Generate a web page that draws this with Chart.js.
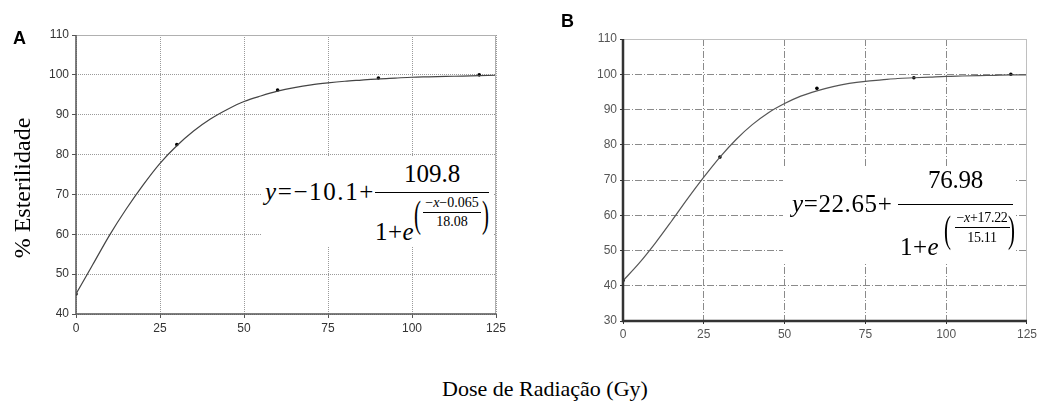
<!DOCTYPE html>
<html>
<head>
<meta charset="utf-8">
<script src="https://cdn.jsdelivr.net/npm/chart.js@4/dist/chart.umd.min.js"></script>
<style>
  html,body{margin:0;padding:0;background:#fff;}
  body{width:1040px;height:403px;position:relative;overflow:hidden;font-family:"Liberation Serif","Times New Roman",serif;}
  .wrap{position:absolute;top:0;}
  .t{position:absolute;white-space:nowrap;line-height:1;color:#000;}
  .box{position:absolute;background:#fff;}
  .bar{position:absolute;background:#000;height:1px;}
  .lbl{position:absolute;font-family:"Liberation Sans",Arial,sans-serif;font-weight:bold;font-size:18px;line-height:1;}
  .paren{position:absolute;line-height:1;transform-origin:left top;transform:scaleX(0.55);}
</style>
</head>
<body>
<div class="wrap" style="left:0;width:520px;height:350px;"><canvas id="cA" width="520" height="350"></canvas></div>
<div class="wrap" style="left:530px;width:510px;height:350px;"><canvas id="cB" width="510" height="350"></canvas></div>

<div class="lbl" style="left:13px;top:29px;">A</div>
<div class="lbl" style="left:561px;top:12px;">B</div>
<div class="t" style="left:22px;top:188px;font-size:24px;transform:translate(-50%,-50%) rotate(-90deg);transform-origin:center;">% Esterilidade</div>
<div class="t" style="left:442px;top:378px;font-size:22px;">Dose de Radiação (Gy)</div>

<!-- Equation A -->
<div class="box" style="left:262px;top:157px;width:232px;height:90px;"></div>
<div class="t" style="left:265px;top:179px;font-size:25px;letter-spacing:1.6px;"><i>y</i>=−10.1+</div>
<div class="t" style="left:375px;top:161px;width:114px;text-align:center;font-size:25px;">109.8</div>
<div class="bar" style="left:375px;top:192px;width:114px;"></div>
<div class="t" style="left:375px;top:219px;font-size:25px;letter-spacing:0.5px;">1+<i>e</i></div>
<div class="paren" style="left:414px;top:195px;font-size:38px;">(</div>
<div class="t" style="left:421px;top:196px;width:62px;text-align:center;font-size:14px;">−<i>x</i>−0.065</div>
<div class="bar" style="left:423px;top:212px;width:58px;"></div>
<div class="t" style="left:421px;top:215px;width:62px;text-align:center;font-size:14px;">18.08</div>
<div class="paren" style="left:482px;top:195px;font-size:38px;">)</div>

<!-- Equation B -->
<div class="box" style="left:783px;top:167px;width:232px;height:96px;"></div>
<div class="t" style="left:792px;top:191px;font-size:25px;letter-spacing:0.6px;"><i>y</i>=22.65+</div>
<div class="t" style="left:898px;top:167px;width:115px;text-align:center;font-size:25px;letter-spacing:-0.3px;">76.98</div>
<div class="bar" style="left:898px;top:204px;width:115px;"></div>
<div class="t" style="left:900px;top:234px;font-size:25px;letter-spacing:0.5px;">1+<i>e</i></div>
<div class="paren" style="left:944px;top:210px;font-size:38px;">(</div>
<div class="t" style="left:952px;top:211px;width:60px;text-align:center;font-size:14px;letter-spacing:-0.3px;">−<i>x</i>+17.22</div>
<div class="bar" style="left:955px;top:227px;width:55px;"></div>
<div class="t" style="left:952px;top:231px;width:60px;text-align:center;font-size:14px;letter-spacing:-0.3px;">15.11</div>
<div class="paren" style="left:1008px;top:210px;font-size:38px;">)</div>

<script>
// ---- data ----
const doseCurve = [0,5,10,15,20,25,30,35,40,45,50,55,60,65,70,75,80,85,90,95,100,105,110,115,120,125];
const curveA = [45,52.4,59.8,66.4,72.4,77.8,82.2,85.9,88.9,91.3,93.3,94.7,95.9,96.8,97.5,98.0,98.4,98.7,99.0,99.2,99.4,99.5,99.6,99.7,99.8,99.9];
const curveB = [41.4,46.4,52.1,58.3,64.7,70.8,76.5,81.5,85.7,89.1,91.7,93.8,95.3,96.5,97.4,98.0,98.4,98.8,99.0,99.2,99.4,99.5,99.6,99.7,99.8,99.8];
const doseObs = [0,30,60,90,120];
const obsA = [45,82.5,96.2,99.2,100];
const obsB = [41.5,76.5,96,99,100];
const xTicks = [0,25,50,75,100,125];
const yTicksA = [40,50,60,70,80,90,100,110];
const yTicksB = [30,40,50,60,70,80,90,100,110];

function pts(xs, ys){ return xs.map((x,i)=>({x:x, y:ys[i]})); }

function framePlugin(axisColor, axisWidth, edgeColor){
  return {
    id:'frame',
    afterDraw(chart){
      const {ctx, chartArea:a} = chart;
      ctx.save();
      ctx.setLineDash([]);
      ctx.strokeStyle = edgeColor; ctx.lineWidth = 1;
      ctx.beginPath();
      ctx.moveTo(a.left, a.top+0.5); ctx.lineTo(a.right, a.top+0.5);
      ctx.moveTo(a.right-0.5, a.top); ctx.lineTo(a.right-0.5, a.bottom);
      ctx.stroke();
      ctx.strokeStyle = axisColor; ctx.lineWidth = axisWidth;
      ctx.beginPath();
      ctx.moveTo(a.left, a.top); ctx.lineTo(a.left, a.bottom);
      ctx.lineTo(a.right, a.bottom);
      ctx.stroke();
      ctx.restore();
    }
  };
}

function makeChart(id, curve, obs, yMin, yTicks, cfg){
  return new Chart(document.getElementById(id), {
    type:'scatter',
    data:{
      datasets:[
        {data: pts(doseCurve, curve), showLine:true, borderColor:cfg.lineColor, borderWidth:1.2,
         pointRadius:0, cubicInterpolationMode:'monotone', fill:false},
        {data: pts(doseObs, obs), showLine:false, pointRadius:1.8, pointBackgroundColor:'#000',
         pointBorderColor:'#000', pointBorderWidth:0}
      ]
    },
    options:{
      responsive:false, animation:false, devicePixelRatio:1,
      layout:{padding:cfg.padding},
      plugins:{legend:{display:false}, tooltip:{enabled:false}},
      scales:{
        x:{type:'linear', min:0, max:125,
           afterBuildTicks(s){ s.ticks = xTicks.map(v=>({value:v})); },
           afterFit(s){ s.height = cfg.xHeight; },
           ticks:{color:cfg.tickColor, font:{family:'"Liberation Sans", Arial, sans-serif', size:12}, padding:cfg.tickPad, maxRotation:0},
           grid:{color:cfg.gridColor, lineWidth:1, tickLength:cfg.tickLen, tickColor:cfg.axisColor},
           border:{display:false, dash:cfg.dash}},
        y:{type:'linear', min:yMin, max:110,
           afterBuildTicks(s){ s.ticks = yTicks.map(v=>({value:v})); },
           afterFit(s){ s.width = cfg.yWidth; },
           ticks:{color:cfg.tickColor, font:{family:'"Liberation Sans", Arial, sans-serif', size:12}, padding:cfg.tickPad},
           grid:{color:cfg.gridColor, lineWidth:1, tickLength:cfg.tickLen, tickColor:cfg.axisColor},
           border:{display:false, dash:cfg.dash}}
      }
    },
    plugins:[framePlugin(cfg.axisColor, cfg.axisWidth, cfg.edgeColor)]
  });
}

makeChart('cA', curveA, obsA, 40, yTicksA, {
  padding:{left:0, right:24, top:35, bottom:0}, xHeight:36, yWidth:76,
  tickColor:'#333', gridColor:'#9a9a9a', dash:[1,1], tickLen:4, tickPad:3,
  axisColor:'#555', axisWidth:1.5, edgeColor:'#b0b0b0', lineColor:'#444'
});
makeChart('cB', curveB, obsB, 30, yTicksB, {
  padding:{left:0, right:12, top:39, bottom:0}, xHeight:29, yWidth:93,
  tickColor:'#555', gridColor:'#8a8a8a', dash:[7,2,1,2], tickLen:3, tickPad:3,
  axisColor:'#333', axisWidth:2.5, edgeColor:'#c0c0c0', lineColor:'#555'
});
</script>
</body>
</html>
